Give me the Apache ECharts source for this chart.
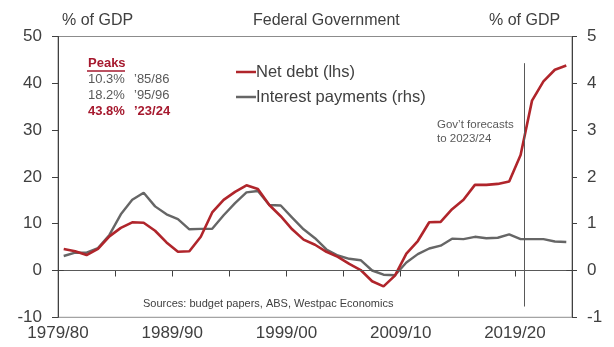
<!DOCTYPE html>
<html>
<head>
<meta charset="utf-8">
<script src="https://cdn.jsdelivr.net/npm/echarts@6/dist/echarts.min.js"></script>
<style>
  html, body { margin: 0; padding: 0; background: #fff; }
  #chart { width: 614px; height: 347px; }
</style>
</head>
<body>
<div id="chart"></div>
<script>
// financial years, 1979/80 to 2023/24
var years = ['1979/80','1980/81','1981/82','1982/83','1983/84','1984/85','1985/86','1986/87','1987/88','1988/89',
  '1989/90','1990/91','1991/92','1992/93','1993/94','1994/95','1995/96','1996/97','1997/98','1998/99',
  '1999/00','2000/01','2001/02','2002/03','2003/04','2004/05','2005/06','2006/07','2007/08','2008/09',
  '2009/10','2010/11','2011/12','2012/13','2013/14','2014/15','2015/16','2016/17','2017/18','2018/19',
  '2019/20','2020/21','2021/22','2022/23','2023/24'];
// net debt, % of GDP (lhs)
var netDebt = [4.6, 4.1, 3.3, 4.6, 7.3, 9.1, 10.3, 10.2, 8.5, 6.0,
  4.0, 4.1, 7.2, 12.4, 15.1, 16.8, 18.2, 17.4, 14.0, 11.6,
  8.8, 6.6, 5.5, 4.0, 2.9, 1.4, 0.1, -2.3, -3.4, -1.1,
  3.6, 6.3, 10.3, 10.4, 13.1, 15.1, 18.3, 18.3, 18.5, 19.0,
  24.7, 36.3, 40.4, 42.9, 43.8];
// interest payments, % of GDP (rhs)
var interest = [0.31, 0.38, 0.38, 0.48, 0.76, 1.20, 1.51, 1.66, 1.37, 1.20,
  1.10, 0.88, 0.89, 0.89, 1.18, 1.44, 1.67, 1.70, 1.40, 1.39,
  1.13, 0.88, 0.69, 0.45, 0.32, 0.25, 0.22, 0.00, -0.09, -0.10,
  0.17, 0.35, 0.47, 0.53, 0.68, 0.67, 0.72, 0.69, 0.70, 0.77,
  0.67, 0.67, 0.67, 0.62, 0.61];
var xLabels = ['1979/80', '1989/90', '1999/00', '2009/10', '2019/20'];
var peaks = [
  ['10.3%', '\u201985/86'],
  ['18.2%', '\u201995/96'],
  ['43.8%', '\u201923/24']
];
var forecastX = 40.85; // forecast divider, in year units from left edge

var red = '#B0252B';
var grey = '#666666';
var txt = '#404040';
var font = 'Liberation Sans, Arial, sans-serif';

var myChart = echarts.init(document.getElementById('chart'));

// points sit in the middle of each year slot
var debtData = years.map(function (y, i) { return [i + 0.5, netDebt[i]]; });
var intData = years.map(function (y, i) { return [i + 0.5, interest[i]]; });
var firstX = 0.5, lastX = years.length - 0.5;

var peakTexts = [];
peaks.forEach(function (p, i) {
  var last = i === peaks.length - 1;
  var st = {
    fontSize: 13, fontFamily: font,
    fill: last ? '#A6192E' : '#595959', fontWeight: last ? 'bold' : 'normal'
  };
  peakTexts.push({ type: 'text', left: 88, top: 73 + i * 16, style: Object.assign({ text: p[0] }, st) });
  peakTexts.push({ type: 'text', left: 134, top: 73 + i * 16, style: Object.assign({ text: p[1] }, st) });
});

var option = {
  animation: false,
  grid: {
    left: 58, right: 42, top: 36.5, bottom: 29.7,
    show: true, borderColor: '#8c8c8c', borderWidth: 1
  },
  legend: {
    orient: 'vertical', left: 231, top: 58,
    icon: 'rect', itemWidth: 20, itemHeight: 2.5, itemGap: 7,
    textStyle: { fontSize: 16.5, color: txt, lineHeight: 18, padding: [0, 0, 0, -5], fontFamily: font },
    data: ['Net debt (lhs)', 'Interest payments (rhs)']
  },
  xAxis: {
    type: 'value', min: 0, max: years.length, interval: 5,
    axisLine: { show: true, lineStyle: { color: txt, width: 1 } },
    axisTick: { show: true, length: 6, lineStyle: { color: txt } },
    splitLine: { show: false },
    axisLabel: {
      fontSize: 17, color: txt, margin: 8, showMaxLabel: false, fontFamily: font,
      formatter: function (v) {
        var lab = years[v];
        return xLabels.indexOf(lab) >= 0 ? lab : '';
      }
    }
  },
  yAxis: [{
    type: 'value', min: -10, max: 50, interval: 10,
    axisLine: { show: true, lineStyle: { color: txt } },
    axisTick: { show: true, length: 6, lineStyle: { color: txt } },
    splitLine: { show: false },
    axisLabel: { fontSize: 17, color: txt, margin: 16, fontFamily: font }
  }, {
    type: 'value', min: -1, max: 5, interval: 1, position: 'right',
    axisLine: { show: true, lineStyle: { color: txt } },
    axisTick: { show: true, length: 5, lineStyle: { color: txt } },
    splitLine: { show: false },
    axisLabel: { fontSize: 17, color: txt, margin: 15, fontFamily: font }
  }],
  series: [{
    name: 'Net debt (lhs)', type: 'line', yAxisIndex: 0,
    data: debtData, showSymbol: false, symbol: 'none', z: 4,
    itemStyle: { color: red },
    lineStyle: { color: red, width: 2.6 },
    markLine: {
      silent: true, symbol: 'none', label: { show: false },
      data: [
        [{ coord: [firstX, 0] }, { coord: [lastX, 0] }],
        [{ coord: [forecastX, 44.3] }, { coord: [forecastX, -7.7] }]
      ],
      lineStyle: { color: '#595959', width: 1, type: 'solid' }
    }
  }, {
    name: 'Interest payments (rhs)', type: 'line', yAxisIndex: 1,
    data: intData, showSymbol: false, symbol: 'none', z: 3,
    itemStyle: { color: grey },
    lineStyle: { color: grey, width: 2.4 }
  }],
  graphic: [
    { type: 'text', left: 62, top: 13, style: { text: '% of GDP', fontSize: 16, fill: txt, fontFamily: font } },
    { type: 'text', left: 253, top: 13, style: { text: 'Federal Government', fontSize: 16, fill: txt, fontFamily: font } },
    { type: 'text', left: 489, top: 13, style: { text: '% of GDP', fontSize: 16, fill: txt, fontFamily: font } },
    { type: 'text', left: 88, top: 57, style: { text: 'Peaks', fontSize: 13, fontWeight: 'bold', fill: '#A6192E', fontFamily: font } },
    { type: 'line', shape: { x1: 87, y1: 71, x2: 125, y2: 71 }, style: { stroke: '#A6192E', lineWidth: 1.5 } },
    { type: 'text', left: 437, top: 118, style: { text: 'Gov\u2019t forecasts\nto 2023/24', fontSize: 11.5, lineHeight: 14, fill: '#595959', fontFamily: font } },
    { type: 'text', left: 143, top: 298, style: { text: 'Sources: budget papers, ABS, Westpac Economics', fontSize: 11, fill: txt, fontFamily: font } }
  ].concat(peakTexts)
};
myChart.setOption(option);
</script>
</body>
</html>
